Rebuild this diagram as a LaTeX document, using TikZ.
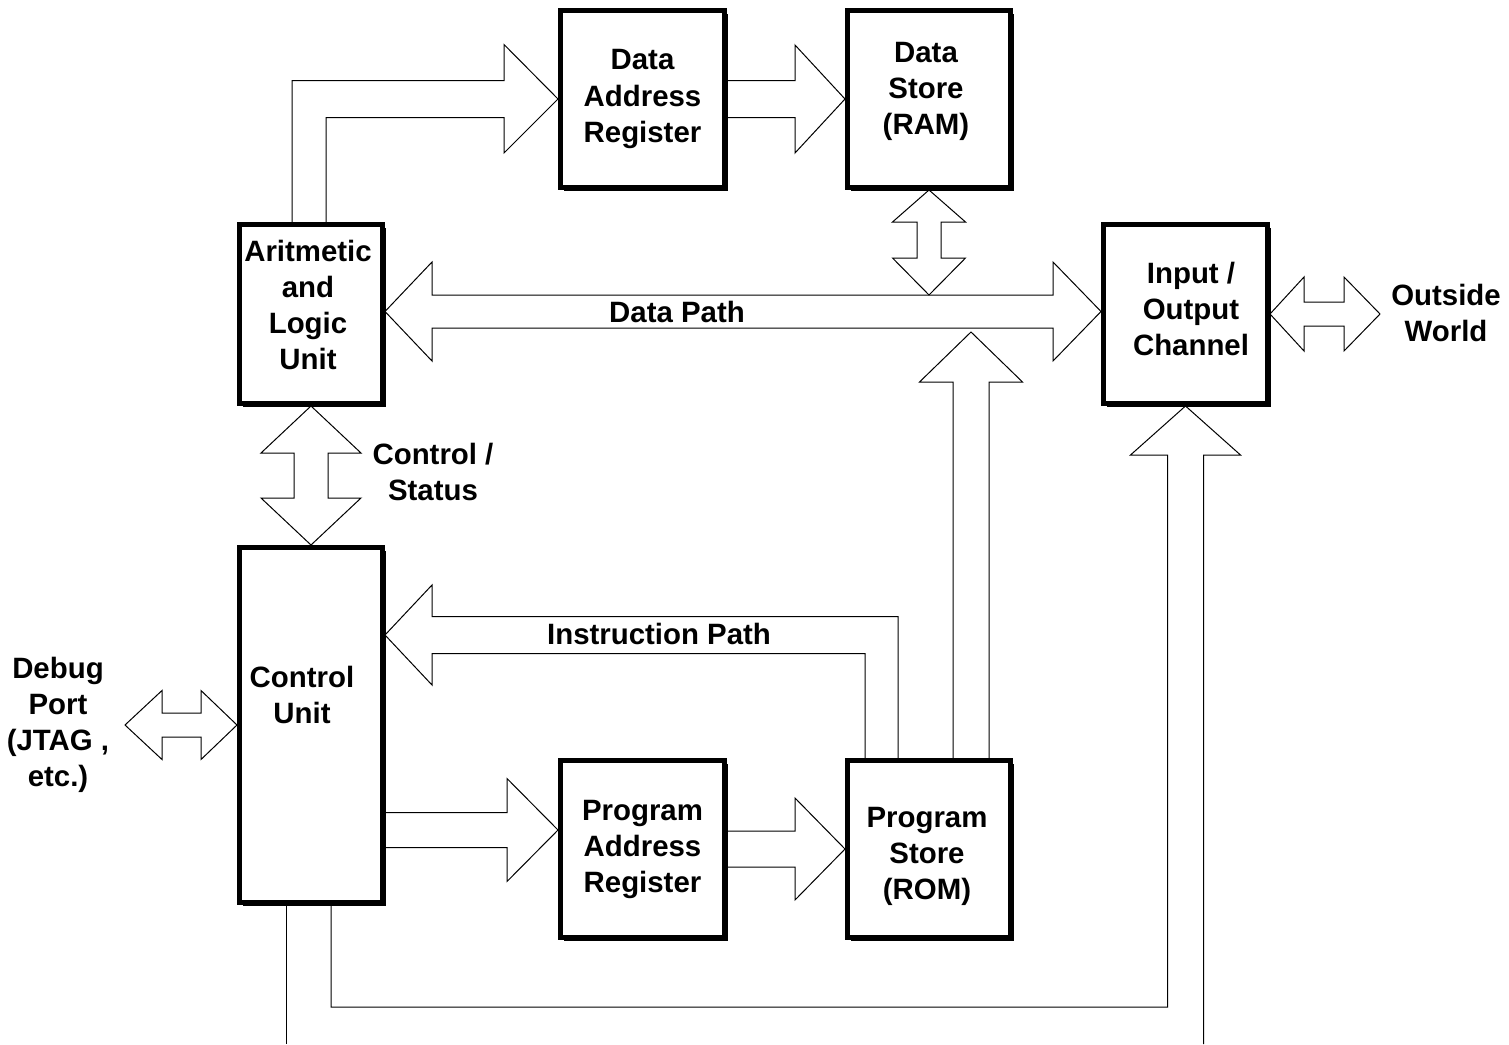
\documentclass[tikz,border=0pt]{standalone}
\usepackage{fontspec}
\setmainfont{Liberation Sans}
\usetikzlibrary{shadows}
\usetikzlibrary{calc}

\begin{document}
\begin{tikzpicture}[x=0.5pt, y=-0.5pt,
    blk/.style={draw, line width=2.5pt, fill=white, align=center, inner sep=0pt,
        font=\fontsize{14.7}{18}\selectfont\bfseries,
        drop shadow={shadow xshift=1.75pt, shadow yshift=-1.75pt, fill=black, opacity=1}},
    barrow/.style={draw=black, line width=0.5pt, line join=miter},
    lbl/.style={align=center, inner sep=0pt, font=\fontsize{14.7}{18}\selectfont\bfseries}]

    \useasboundingbox (0,0) rectangle (1509,1044);

    % boxes
    \node[blk, minimum width=82pt, minimum height=88.5pt] (dar) at (642.5,99) {Data\\Address\\Register};

    \node[blk, minimum width=81.5pt, minimum height=88.5pt] (ram) at (929,99) {};
    \node[lbl] (ramtxt) at (926,91) {Data\\Store\\(RAM)};

    \node[blk, minimum width=71.5pt, minimum height=89.5pt] (alu) at (311,314) {};
    \node[lbl] (alutxt) at (308,305) {Aritmetic\\and\\Logic\\Unit};

    \node[blk, minimum width=82pt, minimum height=89.5pt] (io) at (1185.5,314) {};
    \node[lbl] (iotxt) at (1191,309) {Input /\\Output\\Channel};

    \node[blk, minimum width=71.5pt, minimum height=177.5pt] (cu) at (311,725) {};
    \node[lbl] (cutxt) at (302,695) {Control\\Unit};

    \node[blk, minimum width=82pt, minimum height=88.5pt] (par) at (642.5,849) {Program\\Address\\Register};

    \node[blk, minimum width=81.5pt, minimum height=88.5pt] (rom) at (929,849) {};
    \node[lbl] (romtxt) at (927,856) {Program\\Store\\(ROM)};

    % outside labels
    \node[lbl] (dbgtxt) at (58,725) {Debug\\Port\\(JTAG ,\\etc.)};
    \node[lbl] (owtxt) at (1446,313) {Outside\\World};
    \node[lbl] (cstxt) at (433,472) {Control /\\Status};

    % alu to data address register
    \draw[barrow] ($(alu.north)+(-19,0)$) |- ($(dar.west)+(-54,-18.5)$) -- ++(0,-36) -- (dar.west)
        -- ++(-54,54) -- ++(0,-35.5) -| ($(alu.north)+(15,0)$);

    % data address register to data store
    \draw[barrow] ($(dar.east)+(0,-18.5)$) -- ($(ram.west)+(-50,-18.5)$) -- ++(0,-35.5) -- (ram.west)
        -- ++(-50,54) -- ++(0,-35.5) -- ($(dar.east)+(0,18.5)$);

    % data path
    \coordinate (dpl) at ($(alu.east)+(0,-2.5)$);
    \coordinate (dpr) at ($(io.west)+(0,-2.5)$);
    \coordinate (dptop) at ($(dpl)+(0,-16.5)$);
    \draw[barrow] (dpl) -- ++(47,-49.5) -- ++(0,33) -- ($(dpr)+(-48,-16.5)$) -- ++(0,-33) -- (dpr)
        -- ++(-48,49.5) -- ++(0,-33) -- ($(dpl)+(47,16.5)$) -- ++(0,33) -- cycle;
    \node[lbl] (dptxt) at (677,312) {Data Path};

    % data store to data path
    \draw[barrow] (ram.south) -- ++(36.5,32) -- ++(-24.5,0) -- ++(0,36) -- ++(24.5,0) -- (ram.south |- dptop)
        -- ++(-36.5,-37) -- ++(24.5,0) -- ++(0,-36) -- ++(-24.5,0) -- cycle;

    % program store to data path
    \coordinate (uptip) at ($(dpl -| rom.north)+(42,20.5)$);
    \draw[barrow] ($(rom.north)+(24,0)$) -- ($(uptip)+(-18,50)$) -- ++(-33.5,0) -- (uptip)
        -- ++(51.5,50) -- ++(-33.5,0) -- ($(rom.north)+(60,0)$);

    % control / status
    \draw[barrow] (alu.south) -- ++(50,47) -- ++(-33,0) -- ++(0,45) -- ++(33,0) -- (cu.north)
        -- ++(-50,-47) -- ++(33,0) -- ++(0,-45) -- ++(-33,0) -- cycle;

    % instruction path
    \coordinate (iptip) at ($(cu.north east)+(0,90)$);
    \draw[barrow] ($(rom.north)+(-31,0)$) |- ($(iptip)+(47,-18.5)$) -- ++(0,-31.5) -- (iptip)
        -- ++(47,50) -- ++(0,-31.5) -| ($(rom.north)+(-64,0)$);
    \node[lbl] (iptxt) at (659,634) {Instruction Path};

    % control unit to program address register
    \draw[barrow] ($(cu.east |- par.west)+(0,-36.5)$) -- ($(par.west)+(-51,-36.5)$) -- ++(0,-34)
        -- ($(par.west)+(0,-19)$) -- ++(-51,51.5) -- ++(0,-34) -- ($(cu.east |- par.west)+(0,-1.5)$);

    % program address register to program store
    \draw[barrow] ($(par.east)+(0,-18)$) -- ($(rom.west)+(-50,-18)$) -- ++(0,-33) -- (rom.west)
        -- ++(-50,51) -- ++(0,-33) -- ($(par.east)+(0,18)$);

    % control unit to input / output
    \draw[barrow] ($(cu.south)+(20,0)$) -- ++(0,102) -| ($(io.south)+(-18,49)$) -- ++(-37,0) -- (io.south)
        -- ++(55,49) -- ++(-37,0) -- ($(io.south)+(18,638)$);
    \draw[barrow] ($(cu.south)+(-25,0)$) -- ++(0,139);

    % debug port
    \draw[barrow] (cu.west) -- ++(-36,-34.5) -- ++(0,22.5) -- ++(-39,0) -- ++(0,-22.5) -- ++(-37,34.5)
        -- ++(37,34.5) -- ++(0,-22.5) -- ++(39,0) -- ++(0,22.5) -- cycle;

    % outside world
    \draw[barrow] (io.east) -- ++(34,-37) -- ++(0,25) -- ++(40,0) -- ++(0,-25) -- ++(36,37)
        -- ++(-36,37) -- ++(0,-25) -- ++(-40,0) -- ++(0,25) -- cycle;

\end{tikzpicture}
\end{document}
